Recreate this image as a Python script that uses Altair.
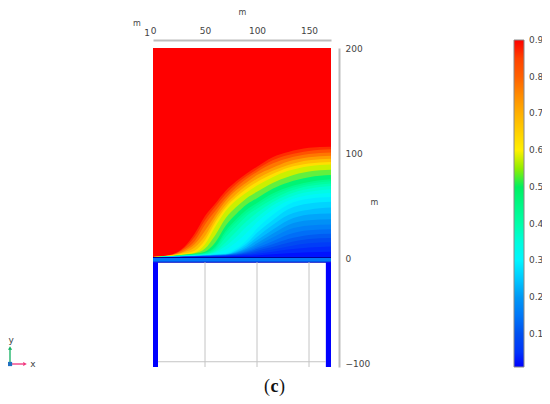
import altair as alt
import pandas as pd

X_STATIONS = [0, 10, 20, 30, 40, 50, 60, 70, 80, 90, 100, 115, 130, 150, 171]
ISO = {
    0.90: [1.0, 2.0, 4, 10.5, 23, 40, 52, 64, 73, 80.5, 87, 96, 101, 105, 106],
    0.85: [1.0, 1.9, 3.7, 9.5, 20, 36, 49, 61, 70.5, 78, 84.5, 93, 98, 102, 103.5],
    0.80: [1.0, 1.8, 3.4, 8, 16, 32, 45, 57.5, 67.5, 75.5, 82, 90, 95, 99, 100.5],
    0.75: [1, 1.7, 3.2, 6.5, 13, 26, 41, 54.5, 64.5, 72, 79, 86, 92, 96, 97.5],
    0.70: [1, 1.6, 3, 5.5, 10, 21, 37.5, 51, 61, 69, 75.5, 83, 88.5, 93, 94.5],
    0.65: [1, 1.55, 2.8, 4.5, 7, 17, 34, 48, 58, 66, 72.5, 80, 86, 90, 91.5],
    0.60: [1, 1.5, 2.5, 3.5, 5, 13, 30, 45, 55, 62.5, 69, 77, 83, 87.5, 89],
    0.55: [1, 1.4, 2.2, 3.2, 4.5, 9, 22, 38, 48.5, 57, 63, 71.5, 77.5, 82.5, 84],
    0.50: [1, 1.3, 2, 3, 4, 6, 15, 31, 42, 51, 57, 66, 72, 77, 79],
    0.45: [.9, 1.25, 1.9, 2.7, 3.5, 5, 11, 26, 37, 46, 52.5, 61.5, 67.5, 72.5, 75],
    0.425: [.9, 1.22, 1.85, 2.55, 3.3, 4.5, 9.5, 23.5, 34, 43, 50, 59, 65.5, 70.5, 73],
    0.40: [.9, 1.2, 1.8, 2.4, 3.1, 4, 8, 20, 30, 40, 47, 56, 63, 68.5, 71],
    0.375: [.9, 1.15, 1.7, 2.25, 2.9, 3.6, 6.5, 15, 25, 35, 43, 53, 60.5, 66, 68.5],
    0.35: [.9, 1.1, 1.6, 2.1, 2.7, 3.3, 5.5, 11.5, 20, 30, 38.5, 50, 57.5, 63, 65.5],
    0.325: [.85, 1.05, 1.5, 1.95, 2.5, 3.1, 4.5, 8, 15, 24, 34, 46, 54.5, 60, 62],
    0.30: [.8, 1, 1.4, 1.8, 2.3, 2.9, 3.4, 4.5, 9, 17, 28, 41, 51, 56.5, 58],
    0.275: [.8, .95, 1.3, 1.7, 2.15, 2.7, 3.2, 3.8, 7.5, 14, 24, 36, 46.5, 52, 53.5],
    0.25: [.8, .9, 1.2, 1.6, 2, 2.5, 3, 3.5, 6.5, 12, 20, 31.5, 41, 46, 48],
    0.225: [.8, .9, 1.15, 1.5, 1.9, 2.3, 2.8, 3.3, 5.5, 10, 17, 27, 36, 41.5, 42.5],
    0.20: [.8, .9, 1.1, 1.4, 1.8, 2.2, 2.6, 3.1, 5, 8.5, 14, 23, 31.5, 36, 37],
    0.175: [.75, .85, 1.05, 1.35, 1.7, 2.1, 2.5, 2.9, 4.5, 7.5, 12, 19.5, 27, 31, 32],
    0.15: [.7, .8, 1, 1.3, 1.6, 2, 2.4, 2.8, 4, 6.5, 10, 16, 22.5, 26.5, 27.5],
    0.125: [.7, .8, .95, 1.25, 1.55, 1.9, 2.2, 2.6, 3.6, 5.5, 8.5, 13, 18, 22, 23],
    0.10: [.7, .8, .9, 1.2, 1.5, 1.8, 2.1, 2.4, 3.2, 4.5, 7, 10.5, 14.5, 18, 19],
    0.075: [.65, .75, .85, 1.1, 1.35, 1.6, 1.9, 2.2, 2.8, 3.7, 5.5, 8, 11, 14, 15],
    0.05: [.6, .7, .8, 1, 1.2, 1.4, 1.7, 2, 2.5, 3, 4, 6, 8, 10, 11],
    0.025: [.5, .6, .7, .8, 1, 1.1, 1.3, 1.5, 1.8, 2.1, 2.5, 3.5, 4.5, 5.5, 6],
}
COLOR_STOPS = [0.0102, 0.1, 0.2, 0.3, 0.4, 0.5, 0.55, 0.6, 0.7, 0.8, 0.9]
COLOR_RANGE = ["#0000ff", "#0050f0", "#0098f5", "#00f5ff", "#00ffa8", "#00f060",
               "#90ee00", "#fff000", "#ffb000", "#ff6000", "#ff0000"]
BAR_TICKS = [0.1, 0.2, 0.3, 0.4, 0.5, 0.6, 0.7, 0.8, 0.9]
X_TICKS = [0, 50, 100, 150]
Y_TICKS = [200, 100, 0, -100]
X_MAX = 171.15
Y_MIN, Y_MAX = -103.8, 200

xs = alt.Scale(domain=[0, X_MAX], nice=False, zero=False)
ys = alt.Scale(domain=[Y_MIN, Y_MAX], nice=False, zero=False)
cs = alt.Scale(domain=COLOR_STOPS, range=COLOR_RANGE, clamp=True)
AX = alt.X("x:Q", scale=xs, axis=None)
AY = alt.Y("y:Q", scale=ys, axis=None, stack=None)
COL = alt.Color("v:Q", scale=cs, legend=None)


def rects(rows):
    return alt.Chart(pd.DataFrame(rows, columns=["x", "x2", "y", "y2", "v"])).mark_rect().encode(
        x=AX, x2="x2:Q", y=AY, y2="y2:Q", color=COL)


sky = alt.Chart(pd.DataFrame({"x": [0], "x2": [X_MAX], "y": [0], "y2": [Y_MAX], "v": [0.9]})).mark_rect().encode(
    x=alt.X("x:Q", scale=xs, axis=alt.Axis(
        orient="top", offset=8, values=X_TICKS, grid=False, ticks=False, domainColor="#bdbdbd",
        domainWidth=2, labelFontSize=9, labelColor="#444444", labelPadding=5, labelFlush=False,
        labelFont="DejaVu Sans", title="m", titleFontSize=8, titleFontWeight="normal",
        titleColor="#444444", titleFont="DejaVu Sans", titleX=89, titleY=-24, titleLimit=60)),
    x2="x2:Q",
    y=alt.Y("y:Q", scale=ys, axis=alt.Axis(
        orient="right", offset=8, values=Y_TICKS, grid=False, ticks=False, domainColor="#bdbdbd",
        domainWidth=2, labelFontSize=9, labelColor="#444444", labelPadding=6, labelFlush=False,
        labelFont="DejaVu Sans", title="m", titleFontSize=8, titleFontWeight="normal",
        titleColor="#444444", titleFont="DejaVu Sans", titleX=35, titleY=158, titleAngle=0)),
    y2="y2:Q",
    color=alt.Color("v:Q", scale=cs, legend=alt.Legend(
        orient="none", legendX=361, legendY=-8, type="gradient", gradientLength=327,
        gradientThickness=10, gradientStrokeColor="#888888", gradientStrokeWidth=1,
        values=BAR_TICKS, labelExpr="''", title=None)),
)

levels = sorted(ISO, reverse=True)
bands = []
for i, lev in enumerate(levels):
    lower = levels[i + 1] if i + 1 < len(levels) else 0.0102
    df = pd.DataFrame({"x": X_STATIONS, "y": ISO[lev], "base": 0, "v": (lev + lower) / 2})
    bands.append(alt.Chart(df).mark_area(interpolate="monotone").encode(
        x=AX, y=AY, y2="base:Q", color=COL))

slab = rects([(0, X_MAX, -4, 0, 0.15)])
slab_edge = alt.Chart(pd.DataFrame({"x": [0], "x2": [X_MAX], "y": [0.5]})).mark_rule(
    color="#0000a0", strokeWidth=1.2).encode(x=AX, x2="x2:Q", y=AY)
slab_bot = alt.Chart(pd.DataFrame({"x": [0], "x2": [X_MAX], "y": [-4]})).mark_rule(
    color="#0000c0", strokeWidth=1).encode(x=AX, x2="x2:Q", y=AY)
legs = rects([(0, 4.8, -103.8, -4, 0.0102), (166.2, X_MAX, -103.8, -4, 0.0102)])
grid_v = alt.Chart(pd.DataFrame({"x": [50, 100, 150], "y": [-4] * 3, "y2": [-103.8] * 3})).mark_rule(
    color="#c4c4c4", strokeWidth=1).encode(x=AX, y=AY, y2="y2:Q")
grid_h = alt.Chart(pd.DataFrame({"x": [4.8], "x2": [166.2], "y": [-98.8]})).mark_rule(
    color="#c4c4c4", strokeWidth=1).encode(x=AX, x2="x2:Q", y=AY)


def txt(s, px, py, size=8, **kw):
    return alt.Chart(pd.DataFrame({"t": [s]})).mark_text(
        fontSize=size, font=kw.pop("font", "DejaVu Sans"), color=kw.pop("color", "#444444"), **kw
    ).encode(text="t:N", x=alt.value(px - 153), y=alt.value(py - 48))


def seg(px, py, px2, py2, color):
    return alt.Chart(pd.DataFrame({"a": [0]})).mark_rule(color=color, strokeWidth=1.3).encode(
        x=alt.value(px - 153), x2=alt.value(px2 - 153), y=alt.value(py - 48), y2=alt.value(py2 - 48))


def head(px, py, shape, color):
    return alt.Chart(pd.DataFrame({"a": [0]})).mark_point(
        shape=shape, filled=True, color=color, size=18, opacity=1).encode(
        x=alt.value(px - 153), y=alt.value(py - 48))


bar_scale = alt.Scale(domain=[0.0102, 0.9], range=[319, -8], nice=False, zero=False)
df_ticks = pd.DataFrame({"tv": BAR_TICKS[:-1]})
df_labels = pd.DataFrame({"tv": BAR_TICKS})
tick_l = alt.Chart(df_ticks).mark_rule(color="#333333", strokeWidth=1).encode(
    x=alt.value(362), x2=alt.value(363.5), y=alt.Y("tv:Q", scale=bar_scale, axis=None))
tick_r = alt.Chart(df_ticks).mark_rule(color="#333333", strokeWidth=1).encode(
    x=alt.value(369.5), x2=alt.value(371), y=alt.Y("tv:Q", scale=bar_scale, axis=None))
bar_labels = alt.Chart(df_labels).mark_text(
    align="left", baseline="middle", fontSize=9, font="DejaVu Sans", color="#444444").encode(
    x=alt.value(376), y=alt.Y("tv:Q", scale=bar_scale, axis=None),
    text=alt.Text("tv:Q", format=".1f"))

chart = alt.layer(
    sky, *bands, slab, slab_edge, slab_bot, legs, grid_v, grid_h, tick_l, tick_r, bar_labels,
    txt("m", 137, 24), txt("1", 147, 33, size=9),
    txt("(", 267, 387, size=18, font="Liberation Serif", color="#111111"),
    txt("c", 274.5, 387, size=18, font="Liberation Serif", color="#111111", fontWeight="bold"),
    txt(")", 282, 387, size=18, font="Liberation Serif", color="#111111"),
    seg(10, 364, 10, 349, "#10b060"), head(10, 348, "triangle-up", "#10b060"),
    seg(10, 364, 23, 364, "#f0307a"), head(25, 364, "triangle-right", "#f0307a"),
    head(10, 364, "square", "#2070c0"),
    txt("y", 8.5, 340, size=9, align="left"), txt("x", 33, 364, size=9),
).resolve_scale(x="independent", y="independent").properties(
    width=178, height=319,
    padding={"left": 145, "top": 40, "right": 211, "bottom": 29},
    autosize=alt.AutoSizeParams(type="none"),
).configure_view(stroke=None)

chart.save("out.html", embed_options={"renderer": "svg", "actions": False})
